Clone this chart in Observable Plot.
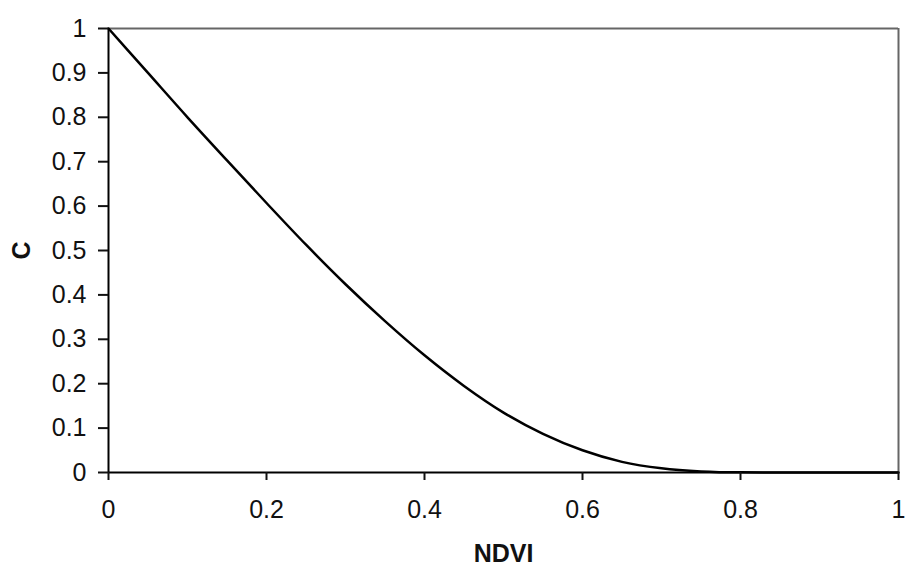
<!DOCTYPE html>
<html>
<head>
<meta charset="utf-8">
<script src="https://cdn.jsdelivr.net/npm/d3@7"></script>
<script src="https://cdn.jsdelivr.net/npm/@observablehq/plot@0.6"></script>
<style>
  html, body { margin: 0; padding: 0; background: #fff; }
  #chart svg { display: block; }
  #chart g[aria-label="x-axis label"] text,
  #chart g[aria-label="y-axis label"] text { font-weight: bold; }
</style>
</head>
<body>
<div id="chart"></div>
<script>
const ndvi = [0, 0.05, 0.1, 0.15, 0.2, 0.25, 0.3, 0.35, 0.4, 0.45, 0.5, 0.55, 0.6, 0.65, 0.7, 0.75, 0.8, 0.85, 0.9, 0.95, 1];
const cValues = [1, 0.9, 0.8, 0.703, 0.607, 0.513, 0.424, 0.341, 0.264, 0.195, 0.135, 0.087, 0.05, 0.024, 0.0094, 0.0025, 0.0003, 0, 0, 0, 0];
const xTicks = [0, 0.2, 0.4, 0.6, 0.8, 1];
const yTicks = [0, 0.1, 0.2, 0.3, 0.4, 0.5, 0.6, 0.7, 0.8, 0.9, 1];
const xLabel = "NDVI";
const yLabel = "C";

const data = ndvi.map((x, i) => ({x, y: cValues[i]}));

const chart = Plot.plot({
  width: 906,
  height: 565,
  marginLeft: 108,
  marginRight: 8,
  marginTop: 28,
  marginBottom: 93,
  style: {fontFamily: "'Liberation Sans', Arial, sans-serif", fontSize: "25px", color: "#111", background: "#fff"},
  x: {domain: [0, 1]},
  y: {domain: [0, 1]},
  marks: [
    Plot.ruleY([1], {stroke: "#666", strokeWidth: 2}),
    Plot.ruleX([1], {stroke: "#666", strokeWidth: 2}),
    Plot.line(data, {x: "x", y: "y", stroke: "#000", strokeWidth: 2.5, curve: "monotone-x"}),
    Plot.ruleX([0], {stroke: "#000", strokeWidth: 2}),
    Plot.ruleY([0], {stroke: "#000", strokeWidth: 2}),
    Plot.axisX({ticks: xTicks, tickFormat: d => String(d), tickSize: 8, tickPadding: 20, strokeWidth: 2,
      label: xLabel, labelAnchor: "center", labelArrow: "none", labelOffset: 89, fontSize: 25}),
    Plot.axisY({ticks: yTicks, tickFormat: d => String(d), tickSize: 10, tickPadding: 12, strokeWidth: 2,
      label: yLabel, labelAnchor: "center", labelArrow: "none", labelOffset: 96, fontSize: 25})
  ]
});
document.getElementById("chart").appendChild(chart);
</script>
</body>
</html>
